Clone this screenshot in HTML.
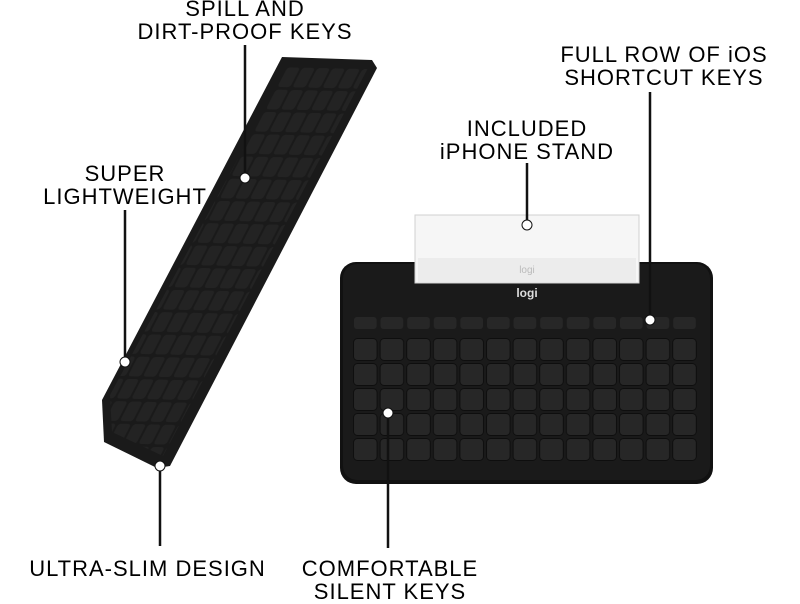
<!DOCTYPE html>
<html><head><style>
body{margin:0;width:800px;height:600px;background:#fff;overflow:hidden;position:relative;font-family:"Liberation Sans",sans-serif}
.l{position:absolute;font-size:22px;line-height:23px;text-align:center;color:#000;letter-spacing:1px;white-space:nowrap}
</style></head><body>
<svg width="800" height="600" style="position:absolute;left:0;top:0">
<defs>
<pattern id="kr" width="26.6" height="25" patternUnits="userSpaceOnUse" x="352" y="337">
<rect x="1.5" y="1.5" width="23.6" height="22" rx="4" fill="#272727" stroke="#0e0e0e" stroke-width="1"/>
</pattern>
<pattern id="kf" width="26.6" height="14" patternUnits="userSpaceOnUse" x="352" y="316">
<rect x="2" y="1" width="22.6" height="12" rx="3" fill="#272727"/>
</pattern>
<pattern id="kl" width="15" height="25" patternUnits="userSpaceOnUse" patternTransform="matrix(1 0.022 -0.46 0.89 287 66)">
<rect x="1.2" y="1.5" width="12.6" height="22" rx="3" fill="#232323"/>
</pattern>
</defs>
<polygon points="282,57 372,60 377,68 170,466 157,468 104,442 102,400" fill="#1a1a1a"/>
<polygon points="288,66 368,68 163,456 112,432 110,395" fill="url(#kl)"/>
<rect x="340" y="262" width="373" height="222" rx="16" fill="#111"/>
<rect x="343" y="264" width="367" height="216" rx="14" fill="#1a1a1a"/>
<rect x="352" y="316" width="346" height="14" fill="url(#kf)"/>
<rect x="352" y="337" width="346" height="125" fill="url(#kr)"/>
<rect x="415" y="215" width="224" height="68" fill="#f6f6f6" stroke="#d0d0d0"/>
<rect x="418" y="258" width="218" height="24" fill="#ececec"/>
<text x="527" y="273" font-size="10" fill="#bbb" text-anchor="middle" font-family="Liberation Sans">logi</text>
<text x="527" y="297" font-size="12" fill="#ddd" text-anchor="middle" font-family="Liberation Sans" font-weight="bold">logi</text>
<g stroke="#111" stroke-width="2.5">
<line x1="245" y1="45" x2="245" y2="178"/>
<line x1="125" y1="210" x2="125" y2="362"/>
<line x1="160" y1="466" x2="160" y2="546"/>
<line x1="388" y1="413" x2="388" y2="548"/>
<line x1="527" y1="163" x2="527" y2="225"/>
<line x1="650" y1="92" x2="650" y2="320"/>
</g>
<g fill="#fff" stroke="#111" stroke-width="1">
<circle cx="245" cy="178" r="5"/><circle cx="125" cy="362" r="5"/><circle cx="160" cy="466" r="5"/>
<circle cx="388" cy="413" r="5"/><circle cx="527" cy="225" r="5"/><circle cx="650" cy="320" r="5"/>
</g>
</svg>
<div class="l" style="left:135px;top:-3px;width:220px">SPILL AND<br>DIRT-PROOF KEYS</div>
<div class="l" style="left:15px;top:162px;width:220px">SUPER<br>LIGHTWEIGHT</div>
<div class="l" style="left:10px;top:557px;width:275px">ULTRA-SLIM DESIGN</div>
<div class="l" style="left:280px;top:557px;width:220px">COMFORTABLE<br>SILENT KEYS</div>
<div class="l" style="left:417px;top:117px;width:220px">INCLUDED<br>iPHONE STAND</div>
<div class="l" style="left:544px;top:43px;width:240px">FULL ROW OF iOS<br>SHORTCUT KEYS</div>
</body></html>
